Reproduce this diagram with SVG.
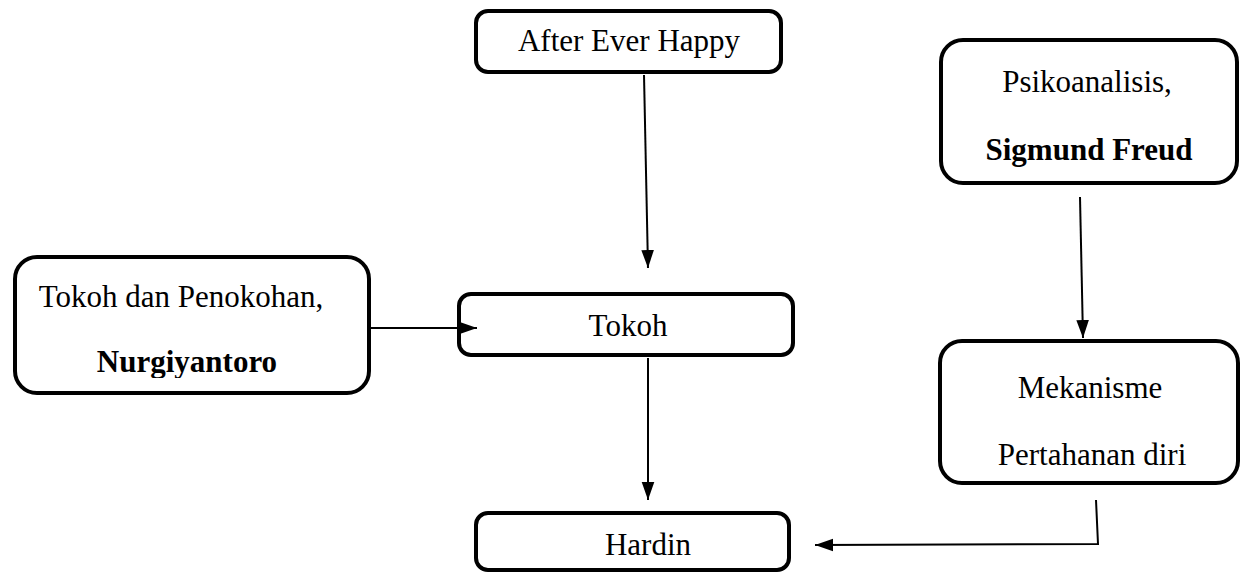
<svg xmlns="http://www.w3.org/2000/svg" width="1246" height="577" viewBox="0 0 1246 577">
<defs>
<style>
.box{fill:#fff;stroke:#000;stroke-width:4}
.t{font-family:"Liberation Serif","Times New Roman",serif;font-size:31px;fill:#000;text-anchor:middle}
.b{font-weight:bold}
.c{stroke:#000;stroke-width:2;fill:none}
</style>
<marker id="ah" viewBox="0 0 20 14" refX="20" refY="7" markerWidth="18" markerHeight="14" markerUnits="userSpaceOnUse" orient="auto">
<path d="M0,0 L20,7 L0,14 z" fill="#000"/>
</marker>
<clipPath id="clipL"><rect x="14" y="258" width="354" height="120"/></clipPath>
</defs>
<rect width="1246" height="577" fill="#fff"/>
<g id="after-ever-happy">
<rect class="box" x="476" y="11" width="305" height="61" rx="12"/>
<text class="t" x="629" y="51">After Ever Happy</text>
</g>
<g id="psikoanalisis">
<rect class="box" x="941" y="40" width="296" height="143" rx="22"/>
<text class="t" x="1087" y="92">Psikoanalisis,</text>
<text class="t b" x="1089" y="160">Sigmund Freud</text>
</g>
<g id="mekanisme">
<rect class="box" x="940" y="341" width="298" height="142" rx="22"/>
<text class="t" x="1090" y="398">Mekanisme</text>
<text class="t" x="1092" y="465">Pertahanan diri</text>
</g>
<g id="tokoh-penokohan">
<rect class="box" x="15" y="257" width="354" height="136" rx="22"/>
<text class="t" x="181" y="307">Tokoh dan Penokohan,</text>
<text class="t b" x="187" y="372" clip-path="url(#clipL)">Nurgiyantoro</text>
</g>
<g id="tokoh">
<rect class="box" x="459" y="294" width="334" height="61" rx="12"/>
<text class="t" x="628" y="336">Tokoh</text>
</g>
<g id="hardin">
<rect class="box" x="476" y="513" width="313" height="57" rx="12"/>
<text class="t" x="648" y="555">Hardin</text>
</g>
<g id="connectors">
<path class="c" d="M644,75 L648,268" marker-end="url(#ah)"/>
<path class="c" d="M1080,197 L1083,338" marker-end="url(#ah)"/>
<path class="c" d="M369,328 L477,328" marker-end="url(#ah)"/>
<path class="c" d="M648,358 L648,500" marker-end="url(#ah)"/>
<path class="c" d="M1096,500 L1098,544 L815,545" marker-end="url(#ah)"/>
</g>
</svg>
